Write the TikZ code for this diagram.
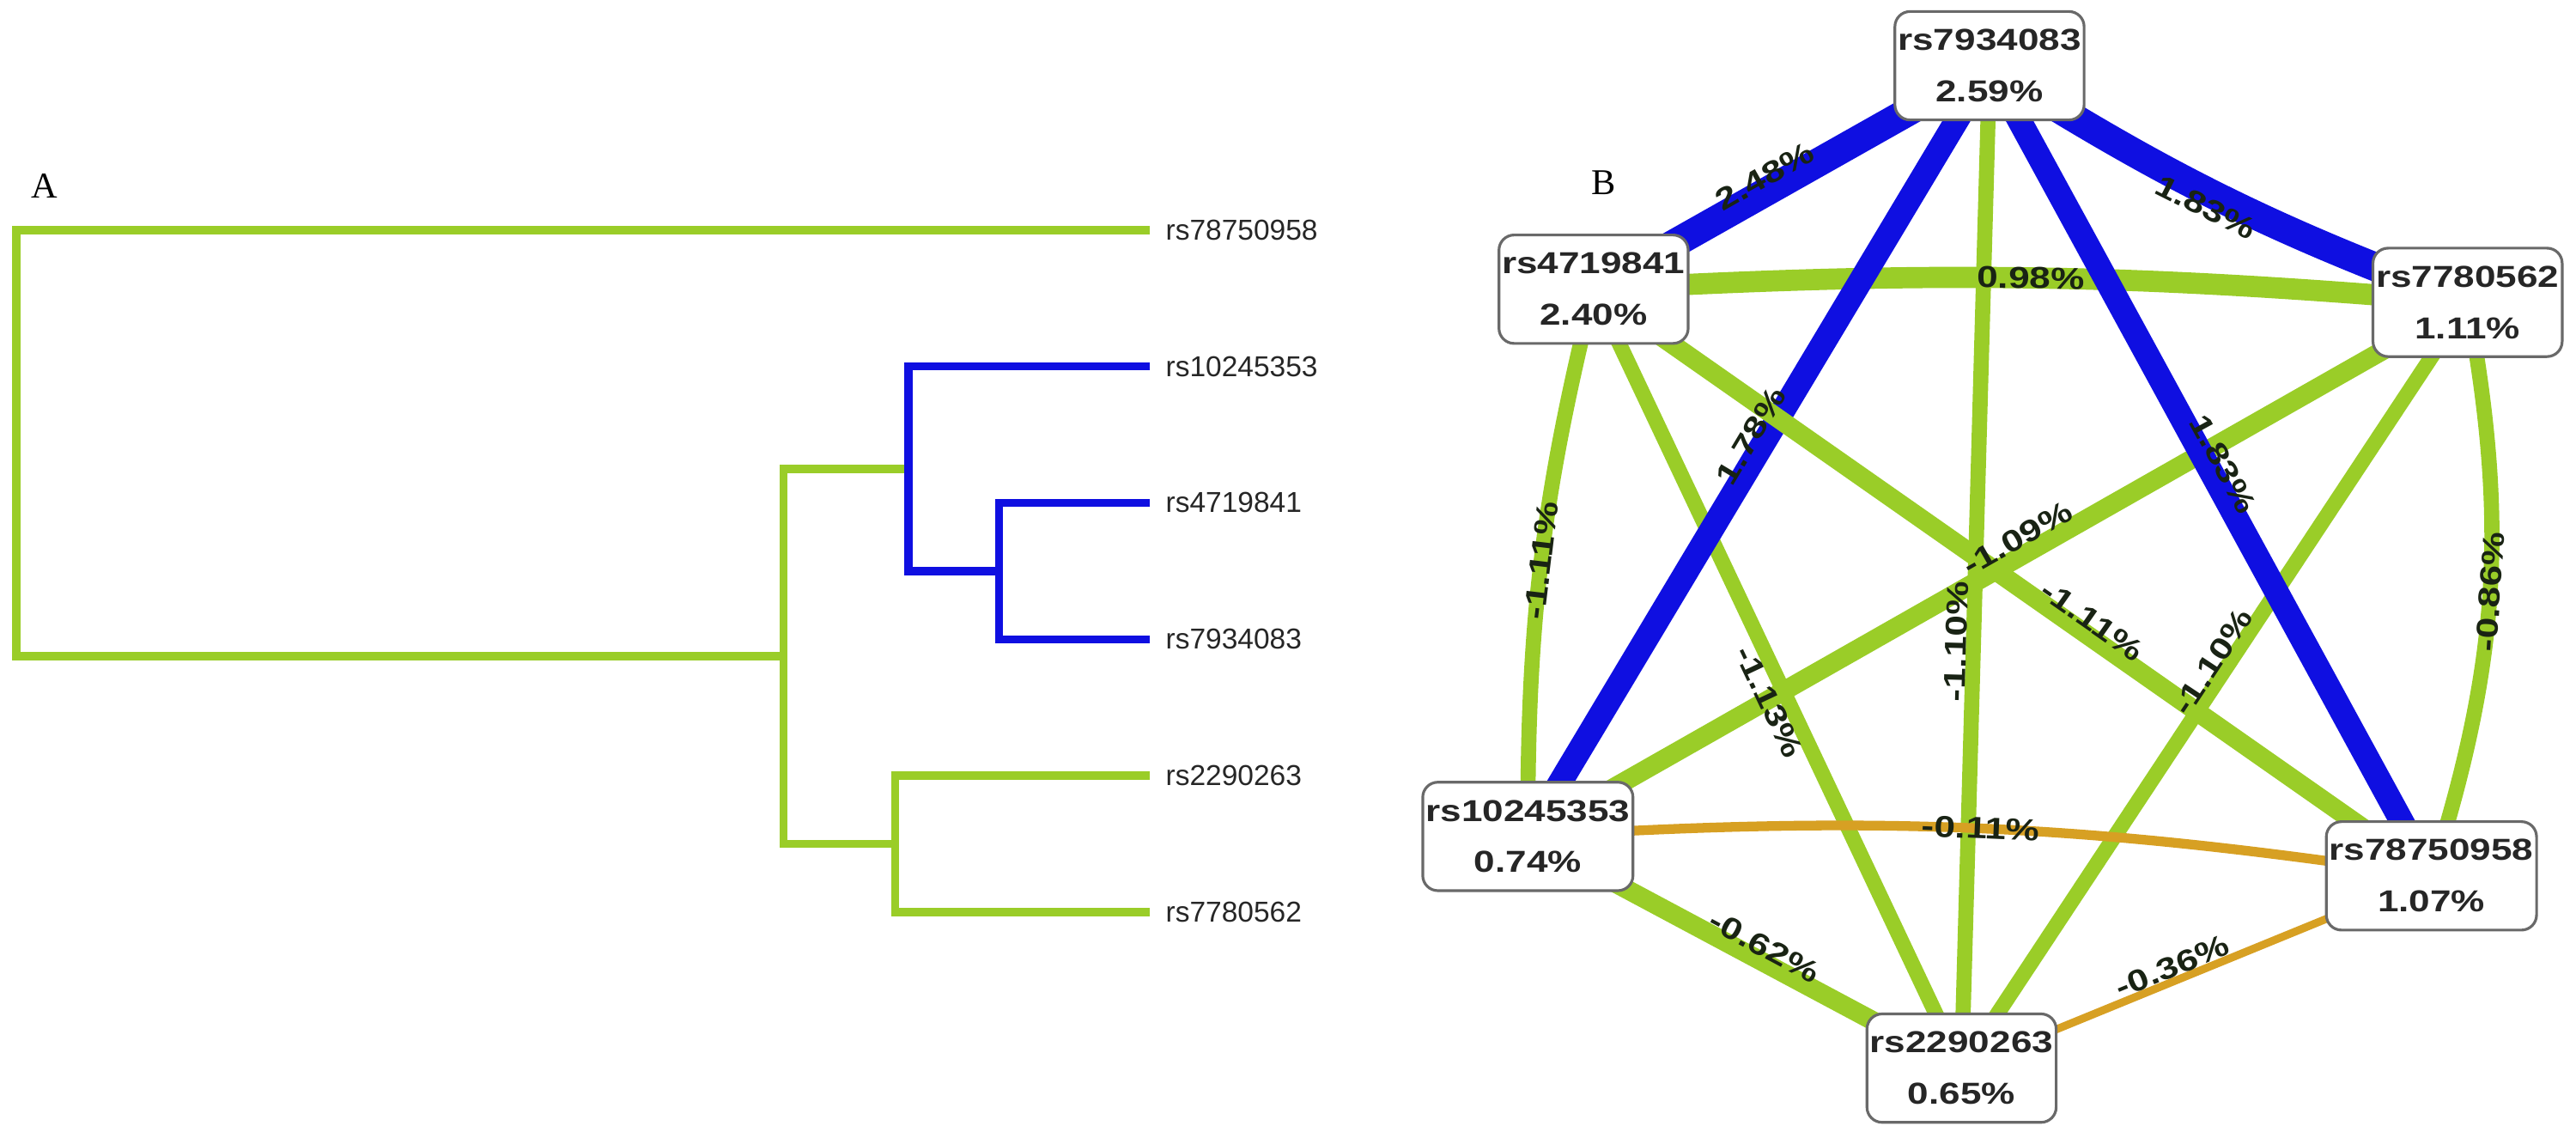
\documentclass[tikz,border=0pt]{standalone}
\usepackage{fontspec}
\setmainfont{Liberation Sans}
\newfontfamily\netfont[FakeStretch=1.25]{Liberation Sans}
\newfontfamily\letterfont{Liberation Serif}
\usetikzlibrary{backgrounds}
\definecolor{limeg}{RGB}{154,205,40}
\definecolor{dblue}{RGB}{15,15,225}
\definecolor{gold}{RGB}{215,160,35}
\definecolor{boxgray}{RGB}{105,105,105}
\definecolor{labink}{RGB}{25,35,20}
\tikzset{
 dendro/.style={line width=2.7pt},
 dg/.style={dendro, draw=limeg},
 dbl/.style={dendro, draw=dblue},
 leaflab/.style={anchor=west, inner sep=0pt, xshift=5pt, font=\fontsize{9.5}{11}\selectfont, text=black!85},
 panel/.style={font=\letterfont\fontsize{12}{14}\selectfont, inner sep=0pt},
 snp/.style={draw=boxgray, line width=0.9pt, fill=white, rounded corners=5pt, align=center, inner xsep=1pt, inner ysep=0pt, minimum height=35.8pt, font=\netfont\bfseries\fontsize{10}{17}\selectfont, text=black!85},
 wlab/.style={sloped, inner sep=0pt, font=\netfont\bfseries\fontsize{10}{12}\selectfont, text=labink},
 gE/.style={draw=limeg},
 bE/.style={draw=dblue},
 oE/.style={draw=gold},
}
\begin{document}
\begin{tikzpicture}[x=0.5425pt,y=0.5425pt]
\useasboundingbox (0,0) rectangle (1568,-685);

% ---------- Panel A: dendrogram ----------
\node[panel] (pA) at (27,-113) {A};
\coordinate (l1) at (700,-140);
\coordinate (l2) at (700,-223);
\coordinate (l3) at (700,-306);
\coordinate (l4) at (700,-389);
\coordinate (l5) at (700,-472);
\coordinate (l6) at (700,-555);
\coordinate (k34) at (608,-347.5);
\coordinate (kB) at (553,-285.25);
\coordinate (kC) at (545,-513.5);
\coordinate (kP) at (477,-399.4);
\coordinate (kR) at (10,-269.7);

\draw[dg] (l1) -| (kR) |- (kP);
\draw[dg] (kB) -| (kP) |- (kC);
\draw[dg] (l5) -| (kC) |- (l6);
\draw[dbl] (l2) -| (kB) |- (k34);
\draw[dbl] (l3) -| (k34) |- (l4);

\node[leaflab] (t1) at (l1) {rs78750958};
\node[leaflab] (t2) at (l2) {rs10245353};
\node[leaflab] (t3) at (l3) {rs4719841};
\node[leaflab] (t4) at (l4) {rs7934083};
\node[leaflab] (t5) at (l5) {rs2290263};
\node[leaflab] (t6) at (l6) {rs7780562};

% ---------- Panel B: network ----------
\node[panel] (pB) at (976,-111) {B};
\node[snp] (n7934083) at (1211,-40) {rs7934083\\2.59\%};
\node[snp] (n4719841) at (970,-176) {rs4719841\\2.40\%};
\node[snp] (n7780562) at (1502,-184) {rs7780562\\1.11\%};
\node[snp] (n10245353) at (930,-509) {rs10245353\\0.74\%};
\node[snp] (n78750958) at (1480,-533) {rs78750958\\1.07\%};
\node[snp] (n2290263) at (1194,-650) {rs2290263\\0.65\%};

\begin{scope}[on background layer]
\draw[gE, line width=5pt] (n4719841.center) to[bend right=7] (n10245353.center);
\draw[gE, line width=5pt] (n4719841.center) -- (n2290263.center);
\draw[gE, line width=5pt] (n7934083.center) -- (n2290263.center);
\draw[gE, line width=6.3pt] (n10245353.center) -- (n7780562.center);
\draw[gE, line width=5pt] (n7780562.center) -- (n2290263.center);
\draw[gE, line width=5pt] (n7780562.center) to[bend left=14] (n78750958.center);
\draw[gE, line width=7pt] (n4719841.center) to[bend left=4] (n7780562.center);
\draw[gE, line width=6.3pt] (n10245353.center) -- (n2290263.center);
\draw[bE, line width=8pt] (n7934083.center) -- (n10245353.center);
\draw[bE, line width=8pt] (n7934083.center) -- (n78750958.center);
\draw[bE, line width=9.5pt] (n7934083.center) -- (n4719841.center);
\draw[bE, line width=9.5pt] (n7934083.center) to[bend right=6] (n7780562.center);
\draw[gE, line width=6.3pt] (n4719841.center) -- (n78750958.center);
\draw[oE, line width=3.2pt] (n10245353.center) to[bend left=6] (n78750958.center);
\draw[oE, line width=2.6pt] (n2290263.center) -- (n78750958.center);

\path (n7934083.center) -- node[wlab, pos=.55, above=1pt] {2.48\%} (n4719841.center);
\path (n7934083.center) to[bend right=6] node[wlab, pos=.48, below=1pt] {1.83\%} (n7780562.center);
\path (n7934083.center) -- node[wlab, pos=.49, above=1pt] {1.78\%} (n10245353.center);
\path (n7934083.center) -- node[wlab, pos=.5, above=1pt] {1.83\%} (n78750958.center);
\path (n4719841.center) to[bend right=7] node[wlab, pos=.5] {-1.11\%} (n10245353.center);
\path (n4719841.center) -- node[wlab, pos=.52, below=2pt] {-1.13\%} (n2290263.center);
\path (n7934083.center) -- node[wlab, pos=.575, above=2pt] {-1.10\%} (n2290263.center);
\path (n10245353.center) -- node[wlab, pos=.53, above=2pt] {-1.09\%} (n7780562.center);
\path (n4719841.center) -- node[wlab, pos=.585, above=1pt] {-1.11\%} (n78750958.center);
\path (n7780562.center) -- node[wlab, pos=.48, above=1pt] {-1.10\%} (n2290263.center);
\path (n7780562.center) to[bend left=14] node[wlab, pos=.5] {-0.86\%} (n78750958.center);
\path (n4719841.center) to[bend left=4] node[wlab, pos=.5] {0.98\%} (n7780562.center);
\path (n10245353.center) to[bend left=6] node[wlab, pos=.5] {-0.11\%} (n78750958.center);
\path (n10245353.center) -- node[wlab, pos=.53, above=1pt] {-0.62\%} (n2290263.center);
\path (n2290263.center) -- node[wlab, pos=.46, above=1pt] {-0.36\%} (n78750958.center);
\end{scope}
\end{tikzpicture}
\end{document}
